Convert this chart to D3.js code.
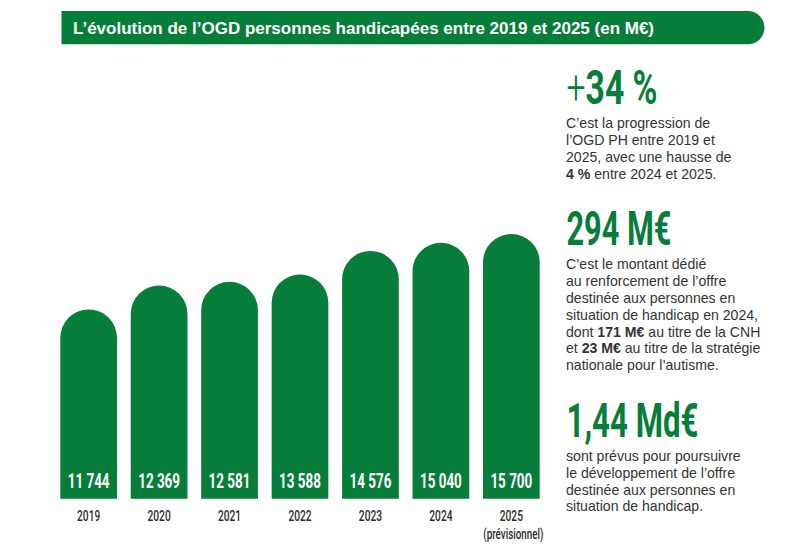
<!DOCTYPE html>
<html><head><meta charset="utf-8">
<script src="https://cdnjs.cloudflare.com/ajax/libs/d3/7.8.5/d3.min.js"></script>
<style>
html,body{margin:0;padding:0;background:#fff}
svg{display:block}
.cond{font-family:Roboto,"Liberation Sans",sans-serif;font-weight:700}
.body{font-family:"Liberation Sans",Arial,sans-serif;font-size:14.1px;fill:#333}
</style></head><body>
<div id="chart"></div>
<script>
const title = "L’évolution de l’OGD personnes handicapées entre 2019 et 2025 (en M€)";
const years = ["2019","2020","2021","2022","2023","2024","2025"];
const valueLabels = ["11 744","12 369","12 581","13 588","14 576","15 040","15 700"];
// Bar levels (the drawn heights are not strictly proportional to the printed labels)
const barLevels = [11310,12740,12960,13400,14810,15290,15820];
const yearNote = "(prévisionnel)";
const calloutHeads = ["+34 %","294 M€","1,44 Md€"];
const calloutBodies = [
 [[["C’est la progression de",0]],[["l’OGD PH entre 2019 et",0]],[["2025, avec une hausse de",0]],[["4 %",1],[" entre 2024 et 2025.",0]]],
 [[["C’est le montant dédié",0]],[["au renforcement de l’offre",0]],[["destinée aux personnes en",0]],[["situation de handicap en 2024,",0]],[["dont ",0],["171 M€",1],[" au titre de la CNH",0]],[["et ",0],["23 M€",1],[" au titre de la stratégie",0]],[["nationale pour l’autisme.",0]]],
 [[["sont prévus pour poursuivre",0]],[["le développement de l’offre",0]],[["destinée aux personnes en",0]],[["situation de handicap.",0]]]
];
const green = "#077d3a";
const W=800,H=548;
const svg=d3.select("#chart").append("svg").attr("width",W).attr("height",H);
const x=d3.scaleBand().domain(years).range([60.3,539.7]).paddingInner(0.195);
const y=d3.scaleLinear().domain([0,15820]).range([498.7,234]);
const bw=x.bandwidth(), r=bw/2;
const barPath=(d,i)=>{const a=x(d),t=y(barLevels[i]),b=y(0);
 return `M${a},${b}V${t+r}A${r},${r} 0 0 1 ${a+bw},${t+r}V${b}Z`;};
svg.selectAll("path.bar").data(years).join("path").attr("class","bar").attr("d",barPath).attr("fill",green);
svg.selectAll("text.val").data(valueLabels).join("text").attr("class","cond val")
 .attr("transform",(d,i)=>`translate(${x(years[i])+bw/2},488) scale(0.64,1)`).attr("text-anchor","middle")
 .attr("font-size",21).attr("fill","#fff").text(d=>d);
svg.append("g").attr("transform","translate(0,498.7)")
 .call(d3.axisBottom(x).tickSize(0).tickPadding(12))
 .call(g=>g.select(".domain").remove())
 .call(g=>g.selectAll("text").attr("class","cond").attr("font-size",15).attr("fill","#2b2b2b").attr("font-weight",500).style("font-weight",500).attr("transform","scale(0.68,1)").style("font-family",null));
svg.append("text").attr("class","cond").style("font-weight",500).attr("transform",`translate(${x("2025")+bw/2+2},539) scale(0.7,1)`).attr("text-anchor","middle")
 .attr("font-size",14).attr("fill","#2b2b2b").text(yearNote);
// title
const tx0=61.5,tx1=764.5,ty0=11,ty1=44.3,tr=(ty1-ty0)/2;
svg.append("path").attr("d",`M${tx0},${ty0}H${tx1-tr}A${tr},${tr} 0 0 1 ${tx1-tr},${ty1}H${tx0}Z`).attr("fill",green);
svg.append("text").attr("x",73).attr("y",34).attr("fill","#fff").attr("font-family","Liberation Sans, Arial").attr("font-weight",700).attr("font-size",17).text(title);
// callouts
const headY=[104,245,436.7], headW=[91,105,132], bodyY=[128.3,269.3,461], lh=16.8;
calloutHeads.forEach((h,i)=>{
 const t=svg.append("text").attr("class","cond").attr("fill",green).attr("font-size",49);
 if(h[0]==="+"){
  t.append("tspan").style("font-weight",300).text("+");
  t.append("tspan").text(h.slice(1));
 } else t.text(h);
 const sx=headW[i]/t.node().getComputedTextLength();
 t.attr("transform",`translate(566.5,${headY[i]}) scale(${sx},1)`);
 calloutBodies[i].forEach((line,j)=>{
  const b=svg.append("text").attr("class","body").attr("x",566).attr("y",bodyY[i]+j*lh);
  line.forEach(([s,bold])=>b.append("tspan").attr("font-weight",bold?700:400).text(s));
 });
});
</script></body></html>
